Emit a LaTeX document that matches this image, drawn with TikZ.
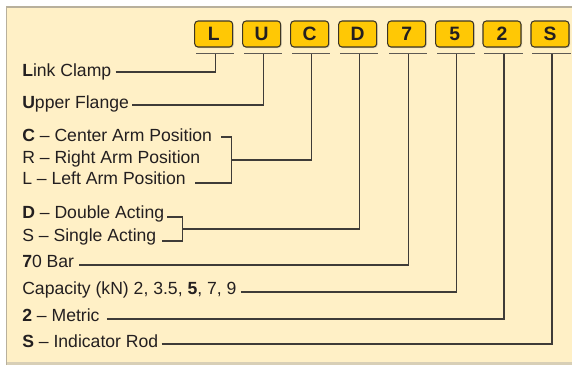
\documentclass[tikz,border=0pt]{standalone}
\usepackage{fontspec}
\setmainfont{Liberation Sans}
\usetikzlibrary{calc,shadows}
\definecolor{panelbg}{HTML}{FFF0C6}
\definecolor{panelrule}{HTML}{B8B09C}
\definecolor{panelfoot}{HTML}{D8CFB6}
\definecolor{boxfill}{HTML}{FFC805}
\definecolor{boxedge}{HTML}{3D3524}
\definecolor{inktext}{HTML}{231F20}
\definecolor{inkline}{HTML}{3F3C38}
\definecolor{tabline}{HTML}{5E5A54}
\begin{document}
\begin{tikzpicture}[x=0.75pt,y=-0.75pt,
  codebox/.style={draw=boxedge,fill=boxfill,line width=0.8pt,rounded corners=2.5pt,
    minimum width=28.5pt,minimum height=19.5pt,inner sep=0pt,text=inktext,
    font=\fontsize{14.5}{16}\selectfont\bfseries,
    drop shadow={opacity=0.3,shadow xshift=0.8pt,shadow yshift=-0.8pt}},
  lbl/.style={anchor=base west,inner sep=0pt,text=inktext,font=\fontsize{13.2}{15}\selectfont},
  conn/.style={draw=inkline,line width=0.85pt},
  tab/.style={draw=tabline,line width=0.85pt}]
\useasboundingbox (0,0) rectangle (572,365);
% panel
\fill[white] (0,0) rectangle (572,365);
\fill[panelbg] (6.5,7) rectangle (572,362);
\fill[panelfoot] (6.5,362) rectangle (572,365);
\draw[panelrule,line width=0.8pt] (6.5,365) |- (572,7);
% code letters
\node[codebox] (bL) at (213.7,34) {L};
\node[codebox] (bU) at (261.7,34) {U};
\node[codebox] (bC) at (309.7,34) {C};
\node[codebox] (bD) at (357.7,34) {D};
\node[codebox] (b7) at (406.7,34) {7};
\node[codebox] (b5) at (454.7,34) {5};
\node[codebox] (b2) at (502,34) {2};
\node[codebox] (bS) at (550,34) {S};
\foreach \b in {L,U,C,D,7,5,2,S}{
  \draw[tab] ([shift={(2,6)}]b\b.south west) -- ([shift={(1,6)}]b\b.south east);
  \coordinate (j\b) at ([shift={(2,6)}]b\b.south);
}
% descriptions
\node[lbl] (tL) at (22,76) {\textbf{L}ink Clamp};
\node[lbl] (tU) at (22,108) {\textbf{U}pper Flange};
\node[lbl] (tC) at (22,141) {\textbf{C} – Center Arm Position};
\node[lbl] (tR) at (22,163) {R – Right Arm Position};
\node[lbl] (tLa) at (22,184) {L – Left Arm Position};
\node[lbl] (tD) at (22,218) {\textbf{D} – Double Acting};
\node[lbl] (tSa) at (22,241) {S – Single Acting};
\node[lbl] (t7) at (22,267) {\textbf{7}0 Bar};
\node[lbl] (tK) at (22,294) {Capacity (kN) 2, 3.5, \textbf{5}, 7, 9};
\node[lbl] (t2) at (22,321) {\textbf{2} – Metric};
\node[lbl] (tS) at (22,347) {\textbf{S} – Indicator Rod};
% leaders
\draw[conn] ([shift={(4,-4)}]tL.base east) -| (jL);
\draw[conn] ([shift={(3,-3)}]tU.base east) -| (jU);
\coordinate (kC) at ([shift={(19,-4)}]tC.base east);
\coordinate (eLa) at ([shift={(9,-1)}]tLa.base east);
\coordinate (kCb) at (kC |- eLa);
\draw[conn] ([shift={(9,-4)}]tC.base east) -- (kC) -- (kCb) -- (eLa);
\draw[conn] ($(kC)!0.5!(kCb)$) -| (jC);
\coordinate (kD) at ([shift={(18,-1)}]tD.base east);
\coordinate (eSa) at ([shift={(5,0)}]tSa.base east);
\coordinate (kDb) at (kD |- eSa);
\draw[conn] ([shift={(3,-1)}]tD.base east) -- (kD) -- (kDb) -- (eSa);
\draw[conn] ($(kD)!0.5!(kDb)$) -| (jD);
\draw[conn] ([shift={(5,-2)}]t7.base east) -| (j7);
\draw[conn] ([shift={(4,-2)}]tK.base east) -| (j5);
\draw[conn] ([shift={(7,-2)}]t2.base east) -| (j2);
\draw[conn] ([shift={(3,-3)}]tS.base east) -| (jS);
\end{tikzpicture}
\end{document}
